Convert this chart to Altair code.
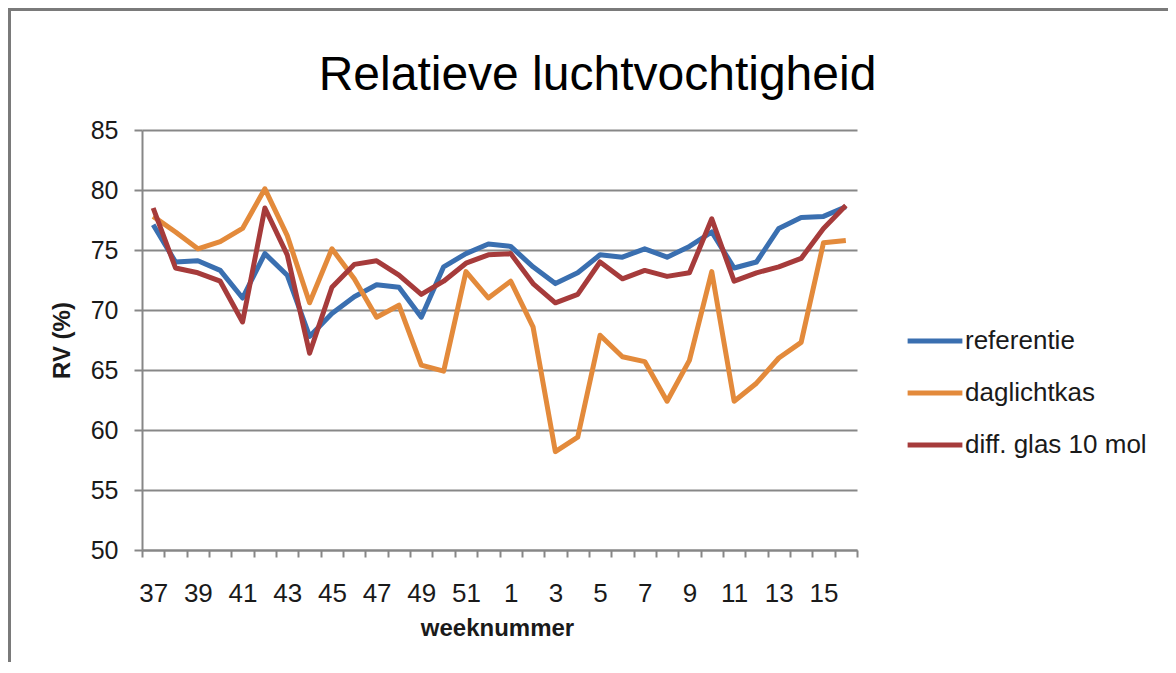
import altair as alt
import pandas as pd

weeks = [37, 38, 39, 40, 41, 42, 43, 44, 45, 46, 47, 48, 49, 50, 51, 52,
         1, 2, 3, 4, 5, 6, 7, 8, 9, 10, 11, 12, 13, 14, 15, 16]

referentie = [77.1, 74.0, 74.1, 73.3, 71.0, 74.7, 72.9, 67.8, 69.7, 71.1, 72.1, 71.9,
              69.4, 73.6, 74.7, 75.5, 75.3, 73.6, 72.2, 73.1, 74.6, 74.4, 75.1, 74.4,
              75.3, 76.5, 73.5, 74.0, 76.8, 77.7, 77.8, 78.6]

daglichtkas = [77.8, 76.5, 75.1, 75.7, 76.8, 80.1, 76.2, 70.6, 75.1, 72.6, 69.4, 70.4,
               65.4, 64.9, 73.2, 71.0, 72.4, 68.6, 58.2, 59.4, 67.9, 66.1, 65.7, 62.4,
               65.8, 73.2, 62.4, 63.9, 66.0, 67.3, 75.6, 75.8]

diff_glas = [78.5, 73.5, 73.1, 72.4, 69.0, 78.5, 74.6, 66.4, 71.9, 73.8, 74.1, 72.9,
             71.3, 72.4, 73.9, 74.6, 74.7, 72.2, 70.6, 71.3, 74.0, 72.6, 73.3, 72.8,
             73.1, 77.6, 72.4, 73.1, 73.6, 74.3, 76.8, 78.7]

series_names = ["referentie", "daglichtkas", "diff. glas 10 mol"]
series_colors = ["#3a6fb0", "#e38a3b", "#a63b3b"]
y_ticks = [50, 55, 60, 65, 70, 75, 80, 85]

rows = []
for name, vals in zip(series_names, [referentie, daglichtkas, diff_glas]):
    for i, (w, v) in enumerate(zip(weeks, vals)):
        rows.append({"idx": i, "week": w, "serie": name, "RV": v})
df = pd.DataFrame(rows)

n = len(weeks)
tick_vals = [i - 0.5 for i in range(n + 1)]
label_list = [str(w) if i % 2 == 0 else "" for i, w in enumerate(weeks)] + [""]
label_expr = "[" + ",".join("'" + s + "'" for s in label_list) + "][round(datum.value + 0.5)]"

W, H = 715, 420
band = W / n
FONT = "Liberation Sans"
GRID = "#878787"
TXT = "#1a1a1a"

x_axis = alt.Axis(
    values=tick_vals, labelExpr=label_expr, labelOffset=band / 2, labelOverlap=False,
    labelFlush=False, grid=False, tickSize=7, tickWidth=2, tickColor=GRID,
    domainColor=GRID, domainWidth=2, labelFontSize=26, labelFont=FONT,
    labelColor=TXT, labelPadding=23,
    title="weeknummer", titleFont=FONT, titleFontSize=24, titleFontWeight="bold",
    titleColor=TXT, titleX=355, titleY=78, titleBaseline="middle", titleAlign="center",
)
y_axis = alt.Axis(
    values=y_ticks, grid=True, gridColor=GRID, gridWidth=2, tickSize=8, tickWidth=2,
    tickColor=GRID, domainColor=GRID, domainWidth=2, labelFontSize=25, labelFont=FONT,
    labelColor=TXT, labelPadding=16,
    title="RV (%)", titleFont=FONT, titleFontSize=24, titleFontWeight="bold",
    titleColor=TXT, titleX=-80, titleY=H / 2, titleAngle=270,
    titleBaseline="middle", titleAlign="center",
)

lines = alt.Chart(df).mark_line(strokeWidth=5, strokeJoin="round").encode(
    x=alt.X("idx:Q", scale=alt.Scale(domain=[-0.5, n - 0.5], nice=False, zero=False), axis=x_axis),
    y=alt.Y("RV:Q", scale=alt.Scale(domain=[50, 85], nice=False, zero=False), axis=y_axis),
    color=alt.Color(
        "serie:N",
        scale=alt.Scale(domain=series_names, range=series_colors),
        sort=series_names,
        legend=alt.Legend(
            title=None, orient="none", legendX=763, legendY=181, symbolType="stroke",
            symbolSize=3000, symbolStrokeWidth=5, labelFont=FONT, labelFontSize=26,
            labelColor=TXT, labelOffset=0, rowPadding=9, padding=0, labelLimit=400,
        ),
    ),
    order=alt.Order("idx:Q"),
)

frame_df = pd.DataFrame({"k": [0]})
frame_top = alt.Chart(frame_df).mark_rect(color="#7a7a7a").encode(
    x=alt.value(-134), x2=alt.value(1030), y=alt.value(-122), y2=alt.value(-119)
)
frame_left = alt.Chart(frame_df).mark_rect(color="#7a7a7a").encode(
    x=alt.value(-134), x2=alt.value(-131), y=alt.value(-122), y2=alt.value(540)
)

chart = alt.layer(lines, frame_top, frame_left).properties(
    width=W, height=H,
    title=alt.TitleParams(
        "Relatieve luchtvochtigheid", font=FONT, fontSize=48, fontWeight="normal",
        color="#000000", anchor="middle", frame="group", dx=98, offset=0, dy=130,
        baseline="alphabetic",
    ),
    autosize=alt.AutoSizeParams(type="none"),
    padding={"left": 134, "top": 122, "right": 311, "bottom": 112},
    background="white",
).configure_view(strokeWidth=0)

chart.save("out.html", embed_options={"renderer": "svg", "actions": False})
